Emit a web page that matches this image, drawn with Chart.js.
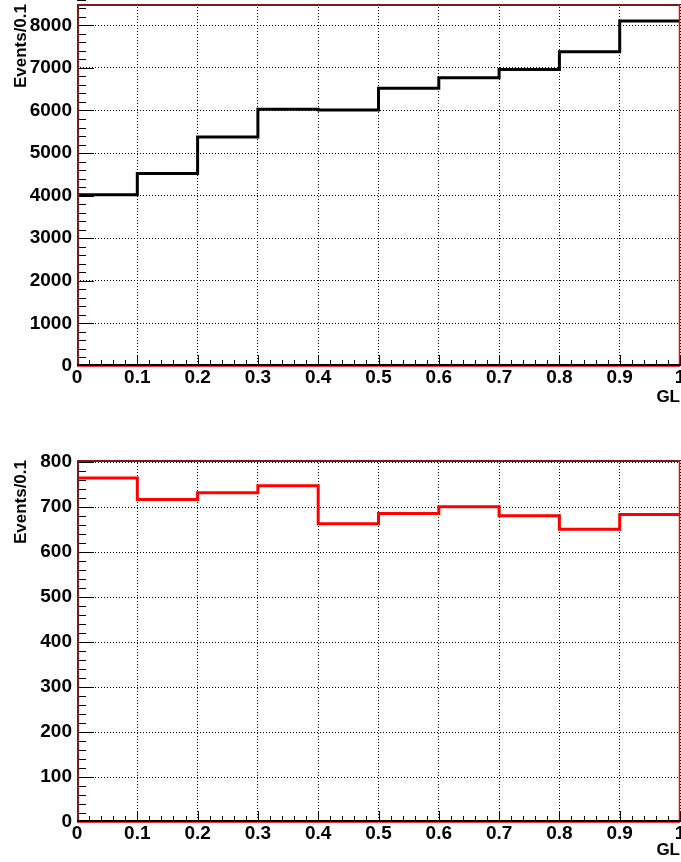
<!DOCTYPE html>
<html>
<head>
<meta charset="utf-8">
<script src="https://cdn.jsdelivr.net/npm/chart.js@4/dist/chart.umd.min.js"></script>
<style>
  html, body { margin: 0; padding: 0; background: #fff; width: 681px; height: 862px; overflow: hidden; }
  canvas { display: block; }
</style>
</head>
<body>
<canvas id="topHist" width="681" height="431"></canvas>
<canvas id="bottomHist" width="681" height="431"></canvas>
<script>
// bin lower edges plus the final upper edge
const binEdges = [0, 0.1, 0.2, 0.3, 0.4, 0.5, 0.6, 0.7, 0.8, 0.9, 1.0];
const eventsTop = [4020, 4520, 5380, 6030, 6010, 6520, 6770, 6960, 7380, 8100];
const eventsBottom = [765, 717, 732, 748, 663, 686, 701, 681, 651, 684];

const xTicks = [0, 0.1, 0.2, 0.3, 0.4, 0.5, 0.6, 0.7, 0.8, 0.9, 1];
const yTicksTop = [0, 1000, 2000, 3000, 4000, 5000, 6000, 7000, 8000];
const yTicksBottom = [0, 100, 200, 300, 400, 500, 600, 700, 800];

const FONT = "'Liberation Sans', Arial, Helvetica, sans-serif";

// ROOT style frame + inward ticks (major and minor)
const frameTicks = {
  id: 'frameTicks',
  afterDatasetsDraw(chart, args, opts) {
    const { ctx, chartArea: a, scales: { x, y } } = chart;
    ctx.save();
    ctx.strokeStyle = '#000';
    ctx.lineWidth = 1;
    const nY = Math.round(y.max / opts.yMinor);
    for (let i = 0; i <= nY; i++) {
      const py = Math.round(y.getPixelForValue(i * opts.yMinor)) + 0.5;
      const len = i % 5 === 0 ? 17 : 9;
      ctx.beginPath(); ctx.moveTo(a.left, py); ctx.lineTo(a.left + len, py); ctx.stroke();
    }
    for (let i = 0; i <= 50; i++) {
      const px = Math.round(x.getPixelForValue(i * 0.02)) + 0.5;
      const len = i % 5 === 0 ? 11 : 6;
      ctx.beginPath(); ctx.moveTo(px, a.bottom); ctx.lineTo(px, a.bottom - len); ctx.stroke();
    }
    // frame
    ctx.lineWidth = 2;
    ctx.strokeStyle = '#7a1a1a';
    ctx.beginPath(); ctx.moveTo(a.left + 1, a.bottom); ctx.lineTo(a.left + 1, a.top + 1); ctx.lineTo(a.right, a.top + 1); ctx.stroke();
    ctx.strokeStyle = '#ff0000';
    ctx.lineWidth = 1.5;
    ctx.beginPath(); ctx.moveTo(a.right - 0.5, a.top); ctx.lineTo(a.right - 0.5, a.bottom); ctx.stroke();
    ctx.strokeStyle = '#000';
    ctx.lineWidth = 2;
    ctx.beginPath(); ctx.moveTo(a.left, a.bottom - 1); ctx.lineTo(a.right, a.bottom - 1); ctx.stroke();
    ctx.strokeStyle = '#ff3030';
    ctx.lineWidth = 1;
    ctx.beginPath(); ctx.moveTo(a.left, a.bottom + 0.5); ctx.lineTo(a.right, a.bottom + 0.5); ctx.stroke();
    ctx.restore();
  }
};

function makeHist(id, values, color, yTicks, yMax, yMinor, padTop, xAxisHeight, xTitlePad) {
  const pts = binEdges.map((e, i) => ({ x: e, y: values[Math.min(i, values.length - 1)] }));
  new Chart(document.getElementById(id), {
    type: 'line',
    data: {
      datasets: [{
        data: pts,
        stepped: true,
        borderColor: color,
        borderWidth: 3,
        pointRadius: 0,
        fill: false
      }]
    },
    plugins: [frameTicks],
    options: {
      responsive: false,
      animation: false,
      devicePixelRatio: 1,
      layout: { padding: { top: padTop, right: 1, bottom: 0, left: 0 } },
      plugins: {
        legend: { display: false },
        tooltip: { enabled: false },
        frameTicks: { yMinor: yMinor }
      },
      scales: {
        x: {
          type: 'linear',
          min: 0, max: 1,
          afterBuildTicks: s => { s.ticks = xTicks.map(v => ({ value: v })); },
          afterFit: s => { s.height = xAxisHeight; s.paddingLeft = 0; s.paddingRight = 0; },
          ticks: {
            autoSkip: false, maxRotation: 0, padding: 0, color: '#000',
            font: { family: FONT, size: 19, weight: 'bold' },
            callback: v => String(+v.toFixed(1))
          },
          grid: { color: '#000', lineWidth: 1, drawTicks: false },
          border: { display: false, dash: [1, 2] },
          title: {
            display: true, text: 'GL', align: 'end', color: '#000',
            font: { family: FONT, size: 17, weight: 'bold' },
            padding: { top: 0, bottom: xTitlePad }
          }
        },
        y: {
          min: 0, max: yMax,
          afterBuildTicks: s => { s.ticks = yTicks.map(v => ({ value: v })); },
          afterFit: s => { s.width = 77; s.paddingTop = 0; s.paddingBottom = 0; },
          ticks: {
            padding: 5, color: '#000',
            font: { family: FONT, size: 19, weight: 'bold' },
            callback: v => String(v)
          },
          grid: { color: '#000', lineWidth: 1, drawTicks: false },
          border: { display: false, dash: [1, 2] },
          title: {
            display: true, text: 'Events/0.1', align: 'end', color: '#000',
            font: { family: FONT, size: 17, weight: 'bold' },
            padding: { top: 11, bottom: 0 }
          }
        }
      }
    }
  });
}

makeHist('topHist', eventsTop, '#000000', yTicksTop, 8500, 200, 4, 65, 23);
makeHist('bottomHist', eventsBottom, '#ff0000', yTicksBottom, 805, 20, 29, 40, 1);
</script>
</body>
</html>
